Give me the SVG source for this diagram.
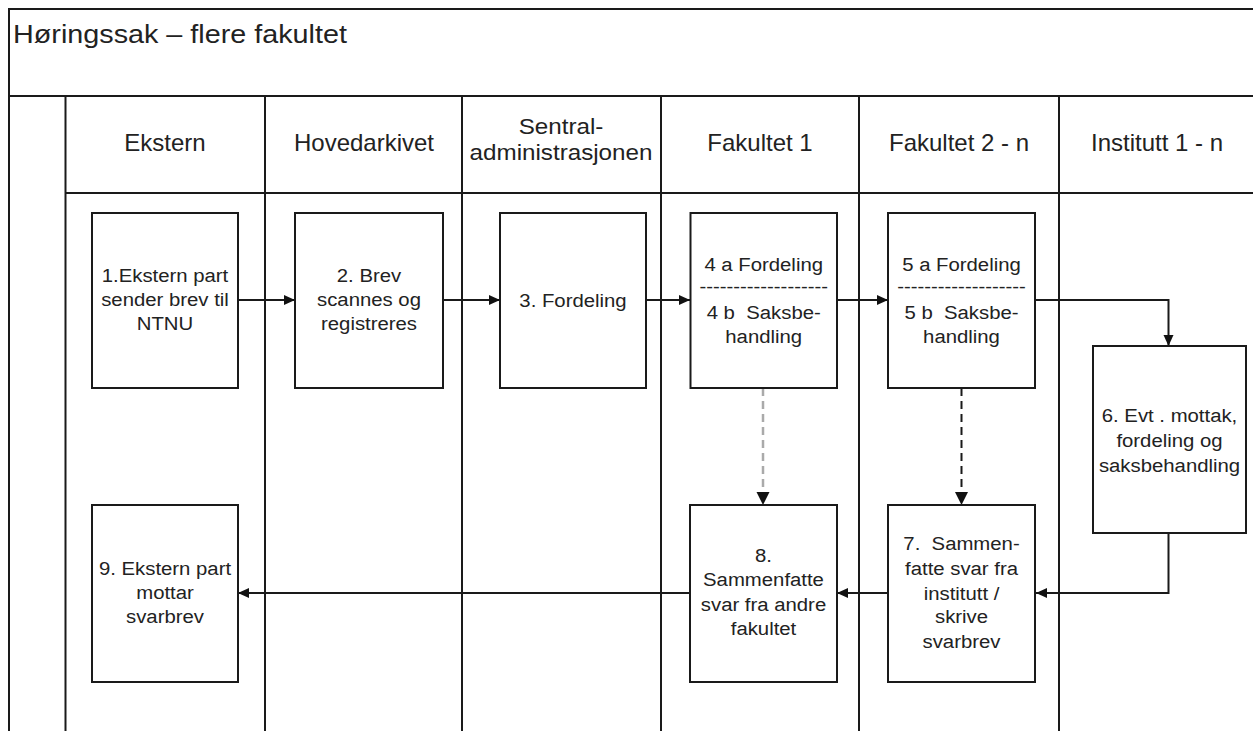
<svg xmlns="http://www.w3.org/2000/svg" width="1253" height="731" viewBox="0 0 1253 731">
<style>
.frame{fill:none;stroke:#1a1a1a;stroke-width:2}
.box{fill:#fff;stroke:#1a1a1a;stroke-width:2}
.lane{stroke:#1a1a1a;stroke-width:2}
.t{font-family:"Liberation Sans",Arial,sans-serif;font-size:18px;fill:#222;text-anchor:middle;white-space:pre}
.h{font-family:"Liberation Sans",Arial,sans-serif;font-size:24px;fill:#222;text-anchor:middle}
.h2{font-family:"Liberation Sans",Arial,sans-serif;font-size:22px;fill:#222;text-anchor:middle}
.title{font-family:"Liberation Sans",Arial,sans-serif;font-size:25px;fill:#222}
.c{fill:none;stroke:#1a1a1a;stroke-width:2}
.dg{fill:none;stroke:#aaa;stroke-width:2.5;stroke-dasharray:8 5}
.db{fill:none;stroke:#1a1a1a;stroke-width:2;stroke-dasharray:8 5}
</style>
<defs>
<marker id="ah" markerUnits="userSpaceOnUse" markerWidth="12" markerHeight="12" viewBox="0 0 12 12" refX="11" refY="6" orient="auto">
<path d="M0,1 L11,6 L0,11 z" fill="#111"/>
</marker>
<marker id="ahl" markerUnits="userSpaceOnUse" markerWidth="14" markerHeight="14" viewBox="0 0 14 14" refX="13" refY="7" orient="auto">
<path d="M0,0.5 L13,7 L0,13.5 z" fill="#111"/>
</marker>
</defs>
<rect x="0" y="0" width="1253" height="731" fill="#fff"/>

<g id="frame">
<path class="frame" d="M9,731 L9,9 L1260,9"/>
<line class="frame" x1="9" y1="96" x2="1260" y2="96"/>
<line class="lane" x1="65.5" y1="193" x2="1260" y2="193"/>
<line class="lane" x1="65.5" y1="96" x2="65.5" y2="731"/>
<line class="lane" x1="265" y1="96" x2="265" y2="731"/>
<line class="lane" x1="462" y1="96" x2="462" y2="731"/>
<line class="lane" x1="661" y1="96" x2="661" y2="731"/>
<line class="lane" x1="859" y1="96" x2="859" y2="731"/>
<line class="lane" x1="1059" y1="96" x2="1059" y2="731"/>
<text class="title" transform="translate(13 0) scale(1.15 1)" x="0" y="43">Høringssak – flere fakultet</text>
</g>

<g id="headers">
<text class="h" x="165" y="151">Ekstern</text>
<text class="h" x="364" y="151">Hovedarkivet</text>
<text class="h2" transform="translate(561 0) scale(1.1 1)"><tspan x="0" y="134">Sentral-</tspan><tspan x="0" y="160">administrasjonen</tspan></text>
<text class="h" x="760" y="151">Fakultet 1</text>
<text class="h" x="959" y="151">Fakultet 2 - n</text>
<text class="h" x="1157" y="151">Institutt 1 - n</text>
</g>

<g id="connectors">
<line class="c" x1="238" y1="300" x2="295" y2="300" marker-end="url(#ah)"/>
<line class="c" x1="443" y1="300" x2="500" y2="300" marker-end="url(#ah)"/>
<line class="c" x1="646" y1="300" x2="690" y2="300" marker-end="url(#ah)"/>
<line class="c" x1="837" y1="300" x2="888" y2="300" marker-end="url(#ah)"/>
<polyline class="c" points="1035,300 1168.5,300 1168.5,346" marker-end="url(#ah)"/>
<polyline class="c" points="1168.5,533 1168.5,593 1036,593" marker-end="url(#ah)"/>
<line class="c" x1="888" y1="593" x2="837" y2="593" marker-end="url(#ah)"/>
<line class="c" x1="690" y1="593" x2="238" y2="593" marker-end="url(#ah)"/>
<line class="dg" x1="763" y1="388" x2="763" y2="505" marker-end="url(#ahl)"/>
<line class="db" x1="961.5" y1="388" x2="961.5" y2="505" marker-end="url(#ahl)"/>
</g>

<g id="n1">
<rect class="box" x="92" y="213" width="146" height="175"/>
<text class="t" transform="translate(165 0) scale(1.13 1)"><tspan x="0" y="282">1.Ekstern part</tspan><tspan x="0" y="306">sender brev til</tspan><tspan x="0" y="330">NTNU</tspan></text>
</g>
<g id="n2">
<rect class="box" x="295" y="213" width="148" height="175"/>
<text class="t" transform="translate(369 0) scale(1.13 1)"><tspan x="0" y="282">2. Brev</tspan><tspan x="0" y="306">scannes og</tspan><tspan x="0" y="330">registreres</tspan></text>
</g>
<g id="n3">
<rect class="box" x="500" y="213" width="146" height="175"/>
<text class="t" transform="translate(573 0) scale(1.13 1)"><tspan x="0" y="307">3. Fordeling</tspan></text>
</g>
<g id="n4">
<rect class="box" x="690.5" y="213" width="146.5" height="175"/>
<text class="t" xml:space="preserve" transform="translate(763.7 0) scale(1.13 1)"><tspan x="0" y="271">4 a Fordeling</tspan><tspan x="0" y="293">-------------------</tspan><tspan x="0" y="319">4 b  Saksbe-</tspan><tspan x="0" y="343">handling</tspan></text>
</g>
<g id="n5">
<rect class="box" x="888" y="213" width="147" height="175"/>
<text class="t" xml:space="preserve" transform="translate(961.5 0) scale(1.13 1)"><tspan x="0" y="271">5 a Fordeling</tspan><tspan x="0" y="293">-------------------</tspan><tspan x="0" y="319">5 b  Saksbe-</tspan><tspan x="0" y="343">handling</tspan></text>
</g>
<g id="n6">
<rect class="box" x="1093" y="346" width="153" height="187"/>
<text class="t" transform="translate(1169.5 0) scale(1.13 1)"><tspan x="0" y="422">6. Evt . mottak,</tspan><tspan x="0" y="447">fordeling og</tspan><tspan x="0" y="472">saksbehandling</tspan></text>
</g>
<g id="n7">
<rect class="box" x="888" y="505" width="147" height="177"/>
<text class="t" xml:space="preserve" transform="translate(961.5 0) scale(1.13 1)"><tspan x="0" y="550">7.  Sammen-</tspan><tspan x="0" y="575">fatte svar fra</tspan><tspan x="0" y="600">institutt /</tspan><tspan x="0" y="623">skrive</tspan><tspan x="0" y="648">svarbrev</tspan></text>
</g>
<g id="n8">
<rect class="box" x="690" y="505" width="147" height="177"/>
<text class="t" transform="translate(763.5 0) scale(1.13 1)"><tspan x="0" y="562">8.</tspan><tspan x="0" y="586.5">Sammenfatte</tspan><tspan x="0" y="611">svar fra andre</tspan><tspan x="0" y="635.5">fakultet</tspan></text>
</g>
<g id="n9">
<rect class="box" x="92" y="505" width="146" height="177"/>
<text class="t" transform="translate(165 0) scale(1.13 1)"><tspan x="0" y="575">9. Ekstern part</tspan><tspan x="0" y="599">mottar</tspan><tspan x="0" y="623">svarbrev</tspan></text>
</g>
</svg>
